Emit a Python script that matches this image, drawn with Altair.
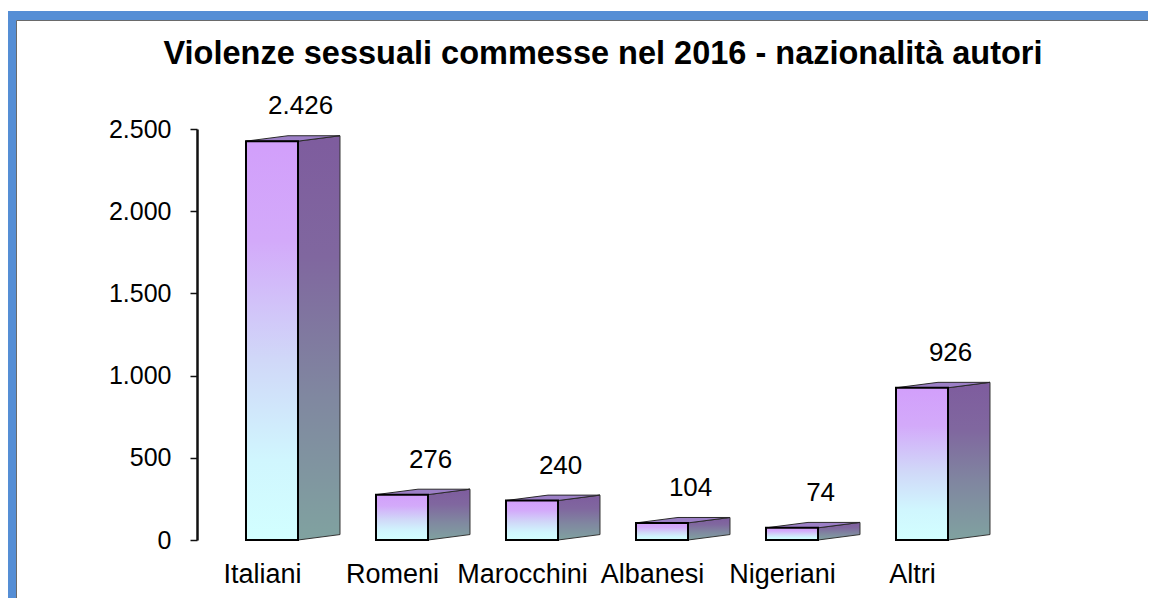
import altair as alt
import pandas as pd

# ---- data ----
categories = ["Italiani", "Romeni", "Marocchini", "Albanesi", "Nigeriani", "Altri"]
values = [2426, 276, 240, 104, 74, 926]
y_ticks = [0, 500, 1000, 1500, 2000, 2500]
title_text = "Violenze sessuali commesse nel 2016 - nazionalità autori"

# ---- 3D look (in data units) ----
HALF = 0.2        # half width of the front face (category units)
DEPTH_X = 0.323   # horizontal depth of the side face
DEPTH_Y = 33      # vertical rise of the back edge (value units)
FONT = "Liberation Sans"

idx = list(range(len(categories)))

front = pd.DataFrame({"cat": categories, "idx": idx, "v": values})
front["x0"] = front["idx"] - HALF
front["x1"] = front["idx"] + HALF

side_rows = []
top_rows = []
for c, i, v in zip(categories, idx, values):
    side_rows.append({"cat": c, "x": i + HALF, "lo": 0, "hi": v})
    side_rows.append({"cat": c, "x": i + HALF + DEPTH_X, "lo": DEPTH_Y, "hi": v + DEPTH_Y})
    top_rows.append({"cat": c, "x": i - HALF, "lo": v, "hi": v})
    top_rows.append({"cat": c, "x": i - HALF + DEPTH_X, "lo": v, "hi": v + DEPTH_Y})
    top_rows.append({"cat": c, "x": i + HALF, "lo": v, "hi": v + DEPTH_Y})
    top_rows.append({"cat": c, "x": i + HALF + DEPTH_X, "lo": v + DEPTH_Y, "hi": v + DEPTH_Y})
side = pd.DataFrame(side_rows)
top = pd.DataFrame(top_rows)

xscale = alt.Scale(domain=[-0.5769, 6.1923], nice=False, zero=False)
yscale = alt.Scale(domain=[0, 2500], nice=False)

label_expr = "[" + ",".join("'" + c + "'" for c in categories) + "][datum.value]"

xaxis = alt.Axis(
    values=idx, labelExpr=label_expr, title=None, grid=False,
    domain=False, ticks=False, tickSize=0, labelPadding=21,
    labelOffset=-10, labelFont=FONT, labelFontSize=27,
    labelColor="#000000", labelOverlap=False, labelBound=False,
    labelFlush=False, zindex=2,
)
yaxis = alt.Axis(
    values=y_ticks, labelExpr="replace(format(datum.value, ','), ',', '.')",
    title=None, grid=False, domain=True, domainColor="#111111",
    domainWidth=2.5, ticks=True, tickSize=7, tickWidth=1.5,
    tickColor="#111111", labelPadding=19, labelFont=FONT,
    labelFontSize=25, labelColor="#000000", zindex=2,
)

front_grad = alt.Gradient(
    gradient="linear", x1=0, y1=0, x2=0, y2=1,
    stops=[
        alt.GradientStop(color="#d29ffb", offset=0),
        alt.GradientStop(color="#d3aafa", offset=0.25),
        alt.GradientStop(color="#d0d8f8", offset=0.55),
        alt.GradientStop(color="#d0f6fe", offset=0.8),
        alt.GradientStop(color="#d2ffff", offset=1),
    ],
)
side_grad = alt.Gradient(
    gradient="linear", x1=0, y1=0, x2=0, y2=1,
    stops=[
        alt.GradientStop(color="#7e5c9e", offset=0),
        alt.GradientStop(color="#80679f", offset=0.3),
        alt.GradientStop(color="#8088a0", offset=0.65),
        alt.GradientStop(color="#80a2a0", offset=1),
    ],
)

# decorative frame (blue border of the original picture)
one = pd.DataFrame({"a": [0]})
frame_blue = alt.Chart(one).mark_rect(fill="#558ed5", strokeWidth=0).encode(
    x=alt.value(-190), x2=alt.value(2000), y=alt.value(-118), y2=alt.value(2000)
)
frame_white = alt.Chart(one).mark_rect(fill="white", stroke="#6a6a6a", strokeWidth=1).encode(
    x=alt.value(-180.5), x2=alt.value(2000), y=alt.value(-108.5), y2=alt.value(2000)
)

side_layer = alt.Chart(side).mark_area(
    fill=side_grad, stroke="#333333", strokeWidth=1, opacity=1
).encode(
    x=alt.X("x:Q", scale=xscale, axis=xaxis),
    y=alt.Y("hi:Q", scale=yscale, axis=yaxis),
    y2="lo:Q",
    detail="cat:N",
)

top_layer = alt.Chart(top).mark_area(
    fill="#9c7fc6", stroke="#2a2a2a", strokeWidth=1, opacity=1
).encode(
    x=alt.X("x:Q", scale=xscale, axis=xaxis),
    y=alt.Y("hi:Q", scale=yscale, axis=yaxis),
    y2="lo:Q",
    detail="cat:N",
)

front_layer = alt.Chart(front).mark_rect(
    fill=front_grad, stroke="#000000", strokeWidth=2
).encode(
    x=alt.X("x0:Q", scale=xscale, axis=xaxis),
    x2="x1:Q",
    y=alt.Y("v:Q", scale=yscale, axis=yaxis),
    y2=alt.datum(0),
)

text_layer = alt.Chart(front).transform_calculate(
    lbl="replace(format(datum.v, ','), ',', '.')",
    xl="datum.idx + 0.22",
).mark_text(
    font=FONT, fontSize=26, color="#000000", baseline="middle", align="center", dy=-35
).encode(
    x=alt.X("xl:Q", scale=xscale, axis=xaxis),
    y=alt.Y("v:Q", scale=yscale, axis=yaxis),
    text="lbl:N",
)

chart = alt.layer(
    frame_blue, frame_white, side_layer, top_layer, front_layer, text_layer
).properties(
    width=880,
    height=411,
    padding={"left": 189, "top": 121, "right": 71, "bottom": 58},
    autosize=alt.AutoSizeParams(type="none"),
    title=alt.TitleParams(
        text=title_text, font=FONT, fontSize=32.5, fontWeight="bold",
        color="#000000", anchor="middle", dx=-34, dy=69, offset=10,
    ),
).configure_view(stroke=None)

chart.save("out.html", embed_options={"renderer": "svg", "actions": False})
